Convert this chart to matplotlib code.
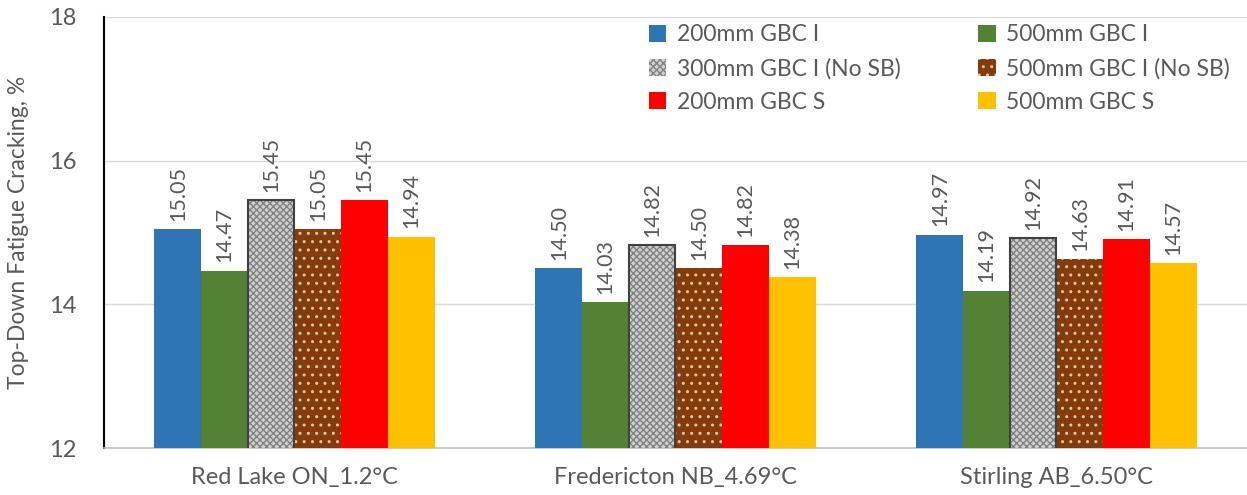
import matplotlib
matplotlib.use("Agg")
import matplotlib.pyplot as plt
import numpy as np

plt.rcParams['font.family'] = ['Lato', 'DejaVu Sans']
plt.rcParams['hatch.linewidth'] = 1.0

sites = ["Red Lake ON_1.2°C", "Fredericton NB_4.69°C", "Stirling AB_6.50°C"]
series_names = ["200mm GBC I", "500mm GBC I", "300mm GBC I (No SB)",
                "500mm GBC I (No SB)", "200mm GBC S", "500mm GBC S"]
gbc200_i = [15.05, 14.50, 14.97]
gbc500_i = [14.47, 14.03, 14.19]
gbc300_i_nosb = [15.45, 14.82, 14.92]
gbc500_i_nosb = [15.05, 14.50, 14.63]
gbc200_s = [15.45, 14.82, 14.91]
gbc500_s = [14.94, 14.38, 14.57]
series_values = [gbc200_i, gbc500_i, gbc300_i_nosb, gbc500_i_nosb, gbc200_s, gbc500_s]

styles = [
    dict(facecolor="#2E75B6", edgecolor="#2E75B6", hatch=None, linewidth=0),
    dict(facecolor="#548235", edgecolor="#548235", hatch=None, linewidth=0),
    dict(facecolor="#D0D0D0", edgecolor="#808080", hatch="xxxxx", linewidth=0),
    dict(facecolor="#843C0C", edgecolor="#E8C9A0", hatch="..", linewidth=0),
    dict(facecolor="#FF0000", edgecolor="#FF0000", hatch=None, linewidth=0),
    dict(facecolor="#FFC000", edgecolor="#FFC000", hatch=None, linewidth=0),
]

text_color = "#595959"
fig = plt.figure(figsize=(12.47, 4.95), dpi=100)
ax = fig.add_axes([0.0834, 0.0949, 0.9166, 0.8708])

x = np.arange(len(sites))
width = 0.1225
n = len(series_values)
handles = []
for i, (name, vals, st) in enumerate(zip(series_names, series_values, styles)):
    pos = x + (i - (n - 1) / 2) * width
    bars = ax.bar(pos, vals, width, label=name, zorder=3, **st)
    handles.append(bars)
    if i == 2:
        # dark outline around the checkered bars
        ax.bar(pos, vals, width, facecolor="none", edgecolor="#404040",
               linewidth=1.5, zorder=4)
    for b, v in zip(bars, vals):
        ax.annotate(f"{v:.2f}", (b.get_x() + b.get_width() / 2, v),
                    xytext=(0, 6), textcoords="offset points",
                    rotation=90, ha="center", va="bottom",
                    fontsize=15.5, color=text_color)

ax.set_xlim(-0.5, len(sites) - 0.5)
ax.set_ylim(12, 18)
ax.set_yticks([12, 14, 16, 18])
ax.set_xticks(x)
ax.set_xticklabels(sites)
ax.tick_params(axis="both", length=0, labelsize=17, labelcolor=text_color)
ax.tick_params(axis="y", pad=20)
ax.tick_params(axis="x", pad=14)
ax.yaxis.grid(True, color="#D9D9D9", linewidth=1, zorder=0)
ax.set_axisbelow(True)
ax.spines["top"].set_visible(False)
ax.spines["right"].set_visible(False)
ax.spines["left"].set_color("black")
ax.spines["left"].set_linewidth(1.5)
ax.spines["bottom"].set_color("#BFBFBF")
ax.spines["bottom"].set_linewidth(1.2)
ax.set_ylabel("Top-Down Fatigue Cracking, %", fontsize=16.5, color=text_color, labelpad=14)

# row-wise legend ordering in a two-column layout
order = [0, 2, 4, 1, 3, 5]
leg = ax.legend([handles[k] for k in order], [series_names[k] for k in order],
                ncol=2, loc="upper left", bbox_to_anchor=(0.459, 1.031),
                frameon=False, fontsize=16.5, handlelength=0.75, handleheight=0.75,
                handletextpad=0.45, columnspacing=3.4, labelspacing=0.54,
                labelcolor=text_color)

fig.savefig("out.png", dpi=100, facecolor="white")
